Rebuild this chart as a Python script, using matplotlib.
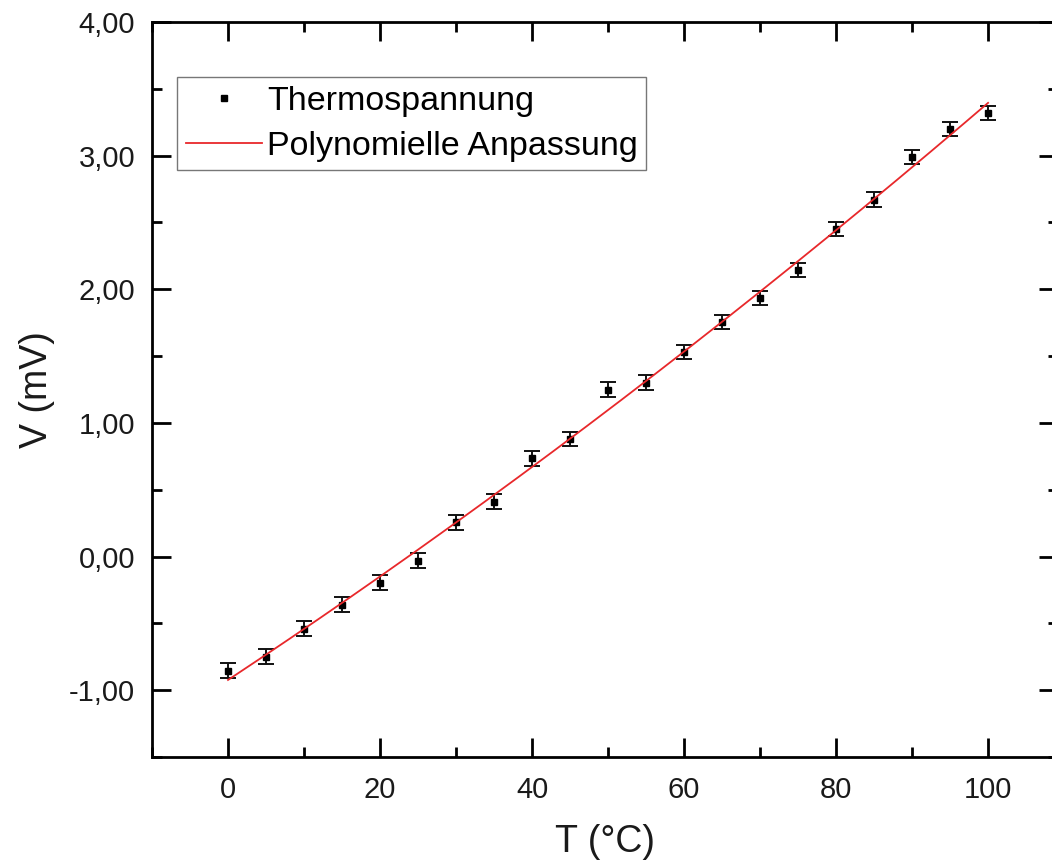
import numpy as np
import matplotlib
matplotlib.use("Agg")
import matplotlib.pyplot as plt
from matplotlib.ticker import MultipleLocator, FuncFormatter

plt.rcParams['font.family'] = ['Liberation Sans', 'DejaVu Sans']

# Thermospannung data
T = [0, 5, 10, 15, 20, 25, 30, 35, 40, 45, 50, 55, 60, 65, 70, 75, 80, 85, 90, 95, 100]
V = [-0.855, -0.75, -0.54, -0.36, -0.195, -0.03, 0.255, 0.41, 0.735, 0.88, 1.25,
     1.30, 1.53, 1.755, 1.935, 2.145, 2.45, 2.67, 2.99, 3.20, 3.32]
V_err = [0.055] * len(T)

# polynomial fit (2nd order) of the data
coef = np.polyfit(T, V, 2)
T_fit = np.linspace(min(T), max(T), 200)
V_fit = np.polyval(coef, T_fit)

fig = plt.figure(figsize=(10.52, 8.64), dpi=100)
ax = fig.add_axes([152/1052, (864-757)/864, (1058-152)/1052, (757-22)/864])

ax.errorbar(T, V, yerr=V_err, fmt='none', ecolor='#111111', elinewidth=1.4,
            capsize=5.5, capthick=1.4, zorder=2)
ax.plot(T, V, 's', color='black', markersize=4.5, label='Thermospannung', zorder=3)
ax.plot(T_fit, V_fit, '-', color='#e8282b', lw=1.3, label='Polynomielle Anpassung', zorder=4)

ax.set_xlim(-10, 109.2)
ax.set_ylim(-1.5, 4.0)

ax.xaxis.set_major_locator(MultipleLocator(20))
ax.xaxis.set_minor_locator(MultipleLocator(10))
ax.yaxis.set_major_locator(MultipleLocator(1))
ax.yaxis.set_minor_locator(MultipleLocator(0.5))
ax.yaxis.set_major_formatter(FuncFormatter(lambda v, p: f"{v:.2f}".replace('.', ',')))

ax.tick_params(which='both', direction='in', top=True, right=True, width=2,
               labelsize=21, labelcolor='#1a1a1a')
ax.tick_params(axis='y', pad=12)
ax.tick_params(axis='x', pad=14)
ax.tick_params(which='major', length=14)
ax.tick_params(which='minor', length=7)
for sp in ax.spines.values():
    sp.set_linewidth(2)

ax.set_xlabel('T (°C)', fontsize=27, labelpad=14, color='#1a1a1a')
ax.set_ylabel('V (mV)', fontsize=27, labelpad=10, color='#1a1a1a')

leg = ax.legend(loc='upper left', bbox_to_anchor=(0.0276, 0.925), fontsize=24.5,
                frameon=True, fancybox=False, edgecolor='#555555',
                handlelength=2.25, handletextpad=0.15, borderpad=0.25,
                labelspacing=0.42, markerscale=1.0, borderaxespad=0)
leg.get_frame().set_linewidth(1.0)

fig.savefig('out.png', dpi=100)
